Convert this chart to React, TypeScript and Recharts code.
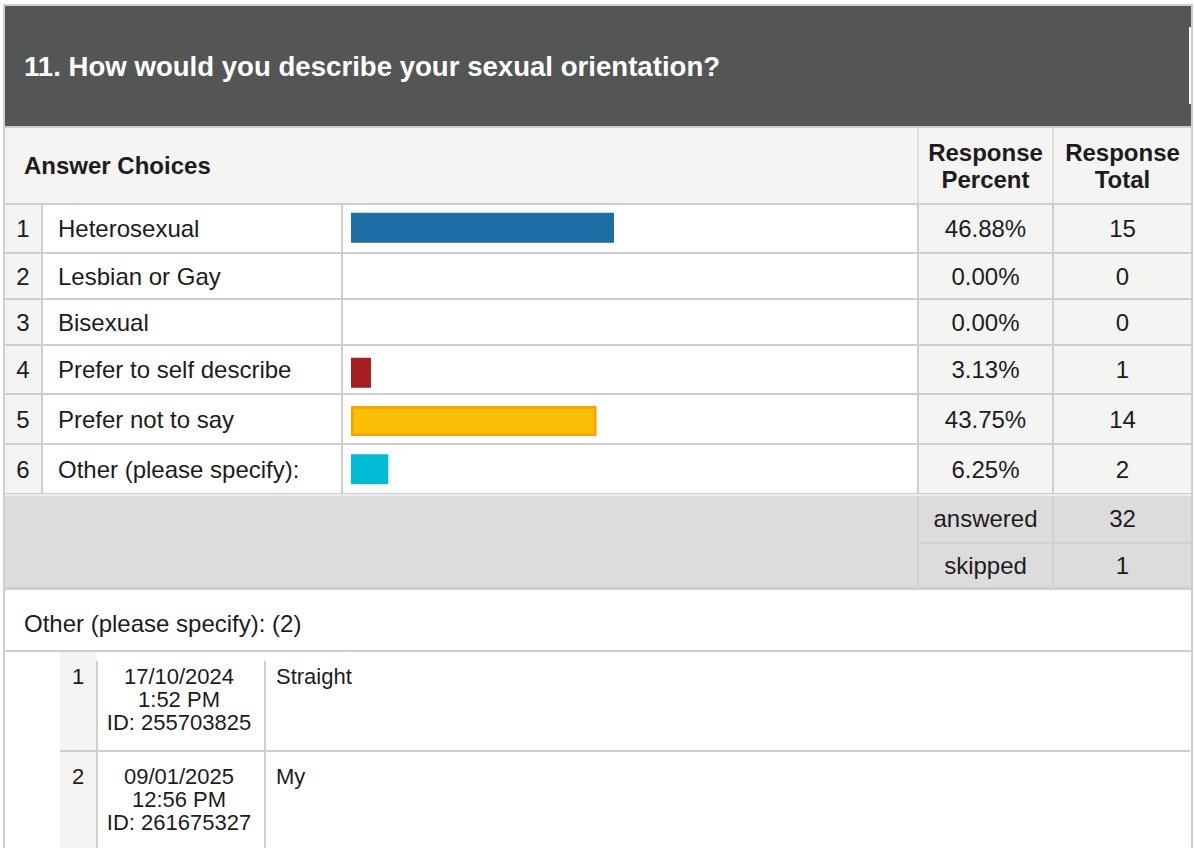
import React from 'react';
import { BarChart, Bar, XAxis, YAxis, Cell } from 'recharts';

// survey question 11 – answer choices, percent of respondents and counts
const choices = [
  'Heterosexual',
  'Lesbian or Gay',
  'Bisexual',
  'Prefer to self describe',
  'Prefer not to say',
  'Other (please specify):',
];
const percents = [46.88, 0, 0, 3.13, 43.75, 6.25];
const totals = [15, 0, 0, 1, 14, 2];

const summaryLabels = ['answered', 'skipped'];
const summaryValues = [32, 1];

const commentDates = ['17/10/2024', '09/01/2025'];
const commentTimes = ['1:52 PM', '12:56 PM'];
const commentIds = ['255703825', '261675327'];
const commentTexts = ['Straight', 'My'];

const barFills = ['#1c6ea4', '#1c6ea4', '#1c6ea4', '#a51d20', '#fdbf06', '#00bcd4'];
const barStrokes = ['#1c6ea4', '#1c6ea4', '#1c6ea4', '#a51d20', '#f7a400', '#00bcd4'];

const FONT = '"Liberation Sans", Arial, Helvetica, sans-serif';
const LINE = '#cecece';
const SHADE = '#f4f4f3';
const INK = '#1c1c1c';

// row edges of the answer table (px)
const rowEdges = [204, 253, 299, 345, 394, 444, 494];

type BoxProps = { x: number; y: number; w: number; h: number; bg?: string; children?: React.ReactNode };
const Box = ({ x, y, w, h, bg, children }: BoxProps) => (
  <div style={{ position: 'absolute', left: x, top: y, width: w, height: h, background: bg }}>{children}</div>
);

type TxtProps = {
  x: number; y: number; w: number; h: number;
  align?: 'left' | 'center'; size?: number; bold?: boolean; color?: string;
  children: React.ReactNode;
};
const Txt = ({ x, y, w, h, align = 'left', size = 24, bold = false, color = INK, children }: TxtProps) => (
  <div
    style={{
      position: 'absolute', left: x, top: y, width: w, height: h, lineHeight: `${h}px`,
      textAlign: align, fontSize: size, fontWeight: bold ? 700 : 400, color,
      fontFamily: FONT, whiteSpace: 'nowrap',
    }}
  >
    {children}
  </div>
);

function Bars() {
  const data = choices.map((c, i) => ({ choice: c, pct: percents[i] }));
  return (
    <div style={{ position: 'absolute', left: 343, top: 204 }}>
      <BarChart
        width={575}
        height={290}
        data={data}
        layout="vertical"
        margin={{ top: 0, right: 10.3, bottom: 0, left: 9.3 }}
      >
        <XAxis type="number" domain={[0, 100]} hide />
        <YAxis type="category" dataKey="choice" hide width={0} />
        <Bar dataKey="pct" barSize={27.4} strokeWidth={2.6} isAnimationActive={false}>
          {data.map((d, i) => (
            <Cell key={d.choice} fill={barFills[i]} stroke={barStrokes[i]} />
          ))}
        </Bar>
      </BarChart>
    </div>
  );
}

export default function App() {
  return (
    <div
      style={{
        position: 'absolute', left: 0, top: 0, width: 1194, height: 848,
        background: '#fff', overflow: 'hidden', fontFamily: FONT,
      }}
    >
      {/* outer frame */}
      <Box x={3} y={4} w={1190} h={2} bg={LINE} />
      <Box x={3} y={4} w={2} h={844} bg={LINE} />
      <Box x={1191} y={4} w={2} h={844} bg={LINE} />

      {/* question header */}
      <Box x={5} y={6} w={1186} h={120} bg="#545655" />
      <Box x={1189} y={27} w={1.5} h={77} bg="#ffffff" />
      <Txt x={24} y={47} w={900} h={40} size={27.6} bold color="#ffffff">
        11. How would you describe your sexual orientation?
      </Txt>
      <Box x={5} y={126} w={1186} h={2} bg={LINE} />

      {/* column header row */}
      <Box x={5} y={128} w={1186} h={76} bg={SHADE} />
      <Txt x={24} y={146} w={400} h={40} bold>Answer Choices</Txt>
      <Box x={917} y={128} w={1.5} h={76} bg="#dedede" />
      <Box x={1052} y={128} w={1.5} h={76} bg="#dedede" />
      <Txt x={919} y={139} w={133} h={28} align="center" bold>Response</Txt>
      <Txt x={919} y={166} w={133} h={28} align="center" bold>Percent</Txt>
      <Txt x={1054} y={139} w={137} h={28} align="center" bold>Response</Txt>
      <Txt x={1054} y={166} w={137} h={28} align="center" bold>Total</Txt>
      <Box x={5} y={203} w={1186} h={2} bg={LINE} />

      {/* answer rows */}
      {choices.map((c, i) => {
        const top = rowEdges[i] + 1;
        const h = rowEdges[i + 1] - rowEdges[i] - 1;
        return (
          <React.Fragment key={c}>
            <Box x={5} y={top} w={36} h={h} bg={SHADE} />
            <Box x={919} y={top} w={133} h={h} bg={SHADE} />
            <Box x={1054} y={top} w={137} h={h} bg={SHADE} />
            <Txt x={5} y={top} w={36} h={h} align="center">{i + 1}</Txt>
            <Txt x={58} y={top} w={280} h={h}>{c}</Txt>
            <Txt x={919} y={top} w={133} h={h} align="center">{percents[i].toFixed(2)}%</Txt>
            <Txt x={1054} y={top} w={137} h={h} align="center">{totals[i]}</Txt>
            <Box x={5} y={rowEdges[i + 1] - 1} w={1186} h={2} bg={LINE} />
          </React.Fragment>
        );
      })}
      <Box x={41} y={204} w={2} h={290} bg={LINE} />
      <Box x={341} y={204} w={2} h={290} bg={LINE} />
      <Box x={917} y={204} w={2} h={290} bg={LINE} />
      <Box x={1052} y={204} w={2} h={290} bg={LINE} />
      <Bars />

      {/* answered / skipped */}
      <Box x={5} y={494} w={1186} h={2} bg="#ececec" />
      <Box x={5} y={496} w={1186} h={92} bg="#dcdcdc" />
      <Box x={917} y={496} w={2} h={92} bg="#d2d2d2" />
      <Box x={1052} y={496} w={2} h={92} bg="#d2d2d2" />
      <Box x={919} y={542} w={272} h={2} bg="#d2d2d2" />
      {summaryLabels.map((s, i) => (
        <React.Fragment key={s}>
          <Txt x={919} y={496 + i * 47} w={133} h={46} align="center">{s}</Txt>
          <Txt x={1054} y={496 + i * 47} w={137} h={46} align="center">{summaryValues[i]}</Txt>
        </React.Fragment>
      ))}
      <Box x={5} y={587} w={1186} h={3} bg={LINE} />

      {/* open-ended responses */}
      <Txt x={24} y={604} w={600} h={40}>Other (please specify): ({commentTexts.length})</Txt>
      <Box x={5} y={650} w={1186} h={2} bg={LINE} />
      {commentTexts.map((t, i) => {
        const top = 652 + i * 100;
        return (
          <React.Fragment key={commentIds[i]}>
            <Box x={60} y={top} w={36} h={98} bg={SHADE} />
            <Box x={96} y={top + (i === 0 ? 9 : 0)} w={2} h={i === 0 ? 89 : 98} bg={LINE} />
            <Box x={264} y={top + (i === 0 ? 9 : 0)} w={2} h={i === 0 ? 89 : 98} bg={LINE} />
            <Txt x={60} y={top + 13} w={36} h={23} size={22} align="center">{i + 1}</Txt>
            <Txt x={98} y={top + 13} w={162} h={23} size={22} align="center">{commentDates[i]}</Txt>
            <Txt x={98} y={top + 36} w={162} h={23} size={22} align="center">{commentTimes[i]}</Txt>
            <Txt x={98} y={top + 59} w={162} h={23} size={22} align="center">ID: {commentIds[i]}</Txt>
            <Txt x={276} y={top + 13} w={800} h={23} size={22}>{t}</Txt>
            {i === 0 && <Box x={60} y={750} w={1130} h={2} bg={LINE} />}
          </React.Fragment>
        );
      })}
    </div>
  );
}
